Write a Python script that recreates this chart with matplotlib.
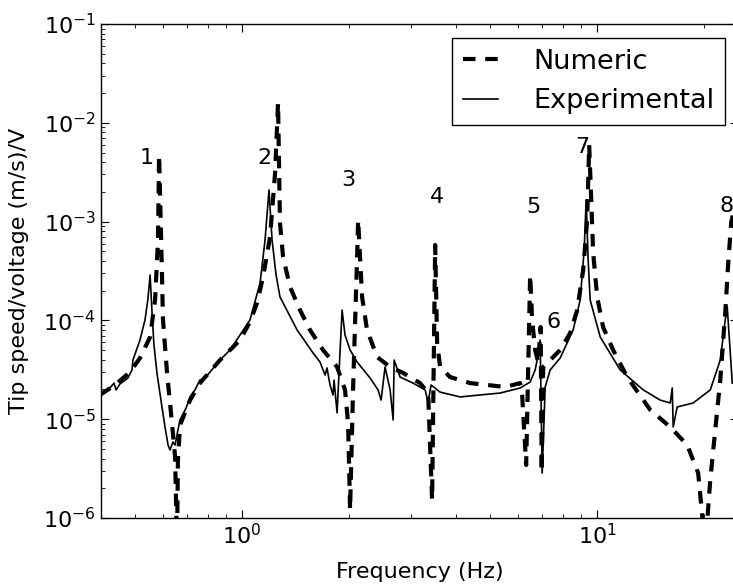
import matplotlib
matplotlib.use("Agg")
import matplotlib.pyplot as plt

plt.rcParams.update({
    "font.family": "DejaVu Sans",
    "mathtext.fontset": "dejavusans",
    "axes.unicode_minus": False,
    "xtick.direction": "in", "ytick.direction": "in",
    "xtick.top": True, "ytick.right": True,
    "xtick.major.size": 6, "ytick.major.size": 6,
    "xtick.minor.size": 3, "ytick.minor.size": 3,
    "xtick.labelsize": 16, "ytick.labelsize": 16,
    "axes.linewidth": 1.0,
    "lines.scale_dashes": False,
})

# Numeric (model) frequency response
num_freq = [0.398, 0.439, 0.484, 0.516, 0.551, 0.569, 0.580, 0.584, 0.595, 0.599,
            0.615, 0.635, 0.648, 0.656, 0.660, 0.669, 0.714, 0.761, 0.867, 0.987,
            1.053, 1.102, 1.146, 1.199, 1.239, 1.263, 1.279, 1.305, 1.365, 1.457,
            1.554, 1.691, 1.852, 1.950, 1.989, 2.015, 2.054, 2.081, 2.109, 2.123,
            2.178, 2.249, 2.401, 2.612, 2.841, 3.172, 3.342, 3.429, 3.498, 3.543,
            3.612, 3.854, 4.388, 5.507, 6.069, 6.148, 6.31, 6.476, 6.560, 6.689,
            6.821, 6.932, 6.978, 7.046, 7.372, 7.866, 8.393, 8.783, 9.133, 9.372,
            9.495, 9.744, 10.0, 10.39, 11.09, 12.15, 14.11, 16.06, 17.93, 19.25,
            20.15, 20.82, 21.50, 22.21, 22.94, 23.39, 23.85, 24.5]
num_val = [1.76e-5, 2.22e-5, 3.01e-5, 4.16e-5, 6.79e-5, 1.61e-4, 6.52e-4, 4.72e-3, 3.02e-4, 1.01e-4,
           2.94e-5, 9.16e-6, 4.14e-6, 5e-7, 3.86e-6, 8.73e-6, 1.56e-5, 2.32e-5, 3.97e-5, 6.33e-5,
           9.64e-5, 1.50e-4, 2.75e-4, 6.98e-4, 3.10e-3, 1.59e-2, 9.68e-4, 4.38e-4, 2.18e-4, 1.27e-4,
           8.00e-5, 5.01e-5, 3.38e-5, 1.98e-5, 9.16e-6, 1.21e-6, 1.98e-5, 9.41e-5, 4.38e-4, 1.04e-3,
           1.73e-4, 8.00e-5, 4.26e-5, 3.38e-5, 2.94e-5, 2.32e-5, 1.84e-5, 1.52e-6, 5.80e-4, 5.91e-5,
           3.38e-5, 2.67e-5, 2.32e-5, 2.12e-5, 2.32e-5, 1.76e-5, 3.44e-6, 2.88e-4, 1.01e-4, 5.01e-5,
           3.79e-5, 8.57e-5, 2.92e-6, 3.38e-5, 3.97e-5, 5.01e-5, 7.45e-5, 1.27e-4, 3.24e-4, 1.04e-3,
           5.96e-3, 4.81e-4, 1.73e-4, 8.57e-5, 5.01e-5, 2.67e-5, 1.24e-5, 8.34e-6, 5.48e-6, 2.85e-6,
           5e-7, 2.43e-6, 7.78e-6, 2.49e-5, 1.19e-4, 3.81e-4, 9.91e-4, 1.5e-3]

# Experimental frequency response
exp_freq = [0.398, 0.403, 0.425, 0.436, 0.442, 0.453, 0.477, 0.490, 0.493, 0.516,
            0.533, 0.543, 0.551, 0.558, 0.565, 0.576, 0.595, 0.607, 0.619, 0.627,
            0.639, 0.648, 0.660, 0.669, 0.696, 0.714, 0.737, 0.761, 0.787, 0.813,
            0.867, 0.925, 0.987, 1.053, 1.124, 1.161, 1.191, 1.215, 1.247, 1.279,
            1.429, 1.585, 1.658, 1.713, 1.735, 1.769, 1.804, 1.816, 1.852, 1.913,
            1.950, 2.015, 2.109, 2.294, 2.416, 2.464, 2.528, 2.612, 2.664, 2.681,
            2.787, 3.031, 3.278, 3.342, 3.407, 3.612, 4.113, 4.682, 5.332, 6.069,
            6.476, 6.689, 6.821, 6.910, 7.001, 7.138, 7.372, 7.866, 8.558, 8.956,
            9.192, 9.311, 9.432, 9.556, 10.20, 11.61, 13.48, 15.05, 16.06, 16.27,
            16.37, 16.80, 18.64, 20.82, 22.21, 22.94, 23.24, 24.01]
exp_val = [1.39e-5, 1.88e-5, 2.07e-5, 2.32e-5, 1.98e-5, 2.27e-5, 2.61e-5, 3.15e-5, 3.97e-5, 6.33e-5,
           1.01e-4, 1.61e-4, 2.88e-4, 1.19e-4, 5.64e-5, 2.94e-5, 1.33e-5, 8.34e-6, 5.48e-6, 4.88e-6,
           5.88e-6, 5.48e-6, 7.78e-6, 9.82e-6, 1.30e-5, 1.68e-5, 1.98e-5, 2.49e-5, 2.61e-5, 3.01e-5,
           3.97e-5, 5.01e-5, 7.11e-5, 1.01e-4, 2.39e-4, 6.52e-4, 2.09e-3, 6.52e-4, 2.88e-4, 1.73e-4,
           8.00e-5, 4.68e-5, 3.79e-5, 2.80e-5, 3.30e-5, 2.22e-5, 1.76e-5, 2.49e-5, 1.16e-5, 1.27e-4,
           7.11e-5, 5.01e-5, 3.79e-5, 2.61e-5, 1.98e-5, 1.56e-5, 3.38e-5, 1.98e-5, 9.82e-6, 3.97e-5,
           2.67e-5, 2.32e-5, 1.98e-5, 1.49e-5, 2.22e-5, 1.88e-5, 1.68e-5, 1.76e-5, 1.84e-5, 2.07e-5,
           2.38e-5, 3.15e-5, 4.47e-5, 6.33e-5, 2.85e-6, 2.12e-5, 3.15e-5, 4.16e-5, 8.00e-5, 1.61e-4,
           5.16e-4, 1.66e-3, 4.08e-4, 1.61e-4, 6.79e-5, 3.15e-5, 1.98e-5, 1.56e-5, 1.46e-5, 2.07e-5,
           8.34e-6, 1.33e-5, 1.46e-5, 1.98e-5, 3.97e-5, 1.01e-4, 1.37e-4, 2.32e-5]

# Mode labels
mode_labels = ["1", "2", "3", "4", "5", "6", "7", "8"]
mode_x = [0.540, 1.153, 1.989, 3.543, 6.60, 7.52, 9.07, 23.09]
mode_y = [4.40e-3, 4.40e-3, 2.64e-3, 1.77e-3, 1.41e-3, 9.64e-5, 5.69e-3, 1.44e-3]

W, H = 733, 584
fig = plt.figure(figsize=(W / 100, H / 100), dpi=100)
ax = fig.add_axes([100.7 / W, 66 / H, 637.8 / W, 494 / H])

ax.plot(num_freq, num_val, color="black", lw=3, linestyle=(0, (9, 7)), label="Numeric")
ax.plot(exp_freq, exp_val, color="black", lw=1.2, label="Experimental")

ax.set_xscale("log")
ax.set_yscale("log")
ax.set_xlim(0.4, 25)
ax.set_ylim(1e-6, 1e-1)

for t, x, y in zip(mode_labels, mode_x, mode_y):
    ax.text(x, y, t, fontsize=16, ha="center", va="center")

ax.set_xlabel("Frequency (Hz)", fontsize=16, labelpad=10)
ax.set_ylabel("Tip speed/voltage (m/s)/V", fontsize=16, labelpad=10)

leg = ax.legend(loc="upper right", fontsize=19.5, fancybox=False, framealpha=1,
                edgecolor="black", handlelength=1.3, handletextpad=1.3,
                bbox_to_anchor=(725 / W, (584 - 38) / H), bbox_transform=fig.transFigure,
                borderaxespad=0.0, labelspacing=0.5)
leg.get_frame().set_linewidth(1.0)

fig.savefig("out.png", dpi=100)
